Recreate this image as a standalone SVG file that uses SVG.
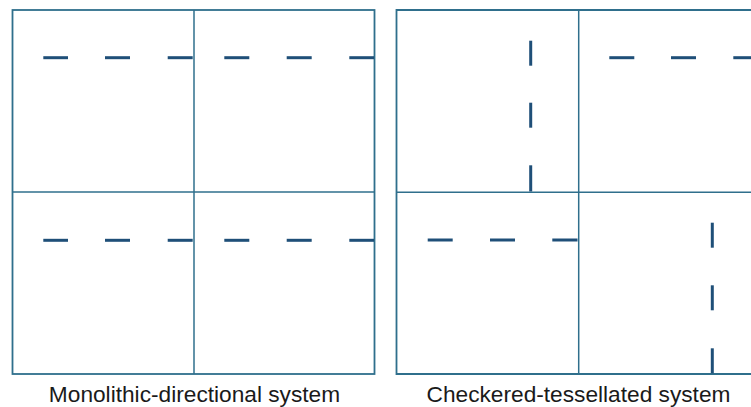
<svg xmlns="http://www.w3.org/2000/svg" width="751" height="407" viewBox="0 0 751 407">
<style>
.frame{fill:none;stroke:#2f6f8c;stroke-width:1.8}
.grid{stroke:#2f6f8c;stroke-width:1.5}
.dash{stroke:#1f4f78;stroke-width:3}
.lbl{font-family:"Liberation Sans",Arial,sans-serif;font-size:22.7px;fill:#1a1a1a;text-anchor:middle}
</style>
<rect width="751" height="407" fill="#ffffff"/>
<g id="monolithic">
<rect class="frame" x="12.5" y="10" width="362" height="364"/>
<line class="grid" x1="194" y1="10" x2="194" y2="374"/>
<line class="grid" x1="12.5" y1="192" x2="374.5" y2="192"/>
<g class="dash">
<line x1="43.3" y1="57.7" x2="68" y2="57.7"/><line x1="105" y1="57.7" x2="130" y2="57.7"/><line x1="167.7" y1="57.7" x2="192.7" y2="57.7"/>
<line x1="224.3" y1="57.7" x2="249.3" y2="57.7"/><line x1="286.7" y1="57.7" x2="311.7" y2="57.7"/><line x1="349.3" y1="57.7" x2="374" y2="57.7"/>
<line x1="43.3" y1="240.3" x2="68" y2="240.3"/><line x1="105" y1="240.3" x2="130" y2="240.3"/><line x1="167.7" y1="240.3" x2="192.7" y2="240.3"/>
<line x1="224.3" y1="240.3" x2="249.3" y2="240.3"/><line x1="286.7" y1="240.3" x2="311.7" y2="240.3"/><line x1="349.3" y1="240.3" x2="374" y2="240.3"/>
</g>
<text class="lbl" x="194.5" y="401.5">Monolithic-directional system</text>
</g>
<g id="checkered">
<path class="frame" d="M760,10 H396.5 V374 H760"/>
<line class="grid" x1="578.7" y1="10" x2="578.7" y2="374"/>
<line class="grid" x1="396.5" y1="192.3" x2="760" y2="192.3"/>
<g class="dash">
<line x1="530.7" y1="40.7" x2="530.7" y2="65.7"/><line x1="530.7" y1="102.7" x2="530.7" y2="127.7"/><line x1="530.7" y1="165.3" x2="530.7" y2="191.5"/>
<line x1="609.3" y1="57.7" x2="634.3" y2="57.7"/><line x1="671" y1="57.7" x2="696" y2="57.7"/><line x1="733.3" y1="57.7" x2="758" y2="57.7"/>
<line x1="427.7" y1="240" x2="452.7" y2="240"/><line x1="490" y1="240" x2="515" y2="240"/><line x1="552.3" y1="240" x2="577.5" y2="240"/>
<line x1="712.3" y1="222.7" x2="712.3" y2="247.7"/><line x1="712.3" y1="285.3" x2="712.3" y2="310.3"/><line x1="712.3" y1="348.3" x2="712.3" y2="373.3"/>
</g>
<text class="lbl" x="578.5" y="402">Checkered-tessellated system</text>
</g>
</svg>
